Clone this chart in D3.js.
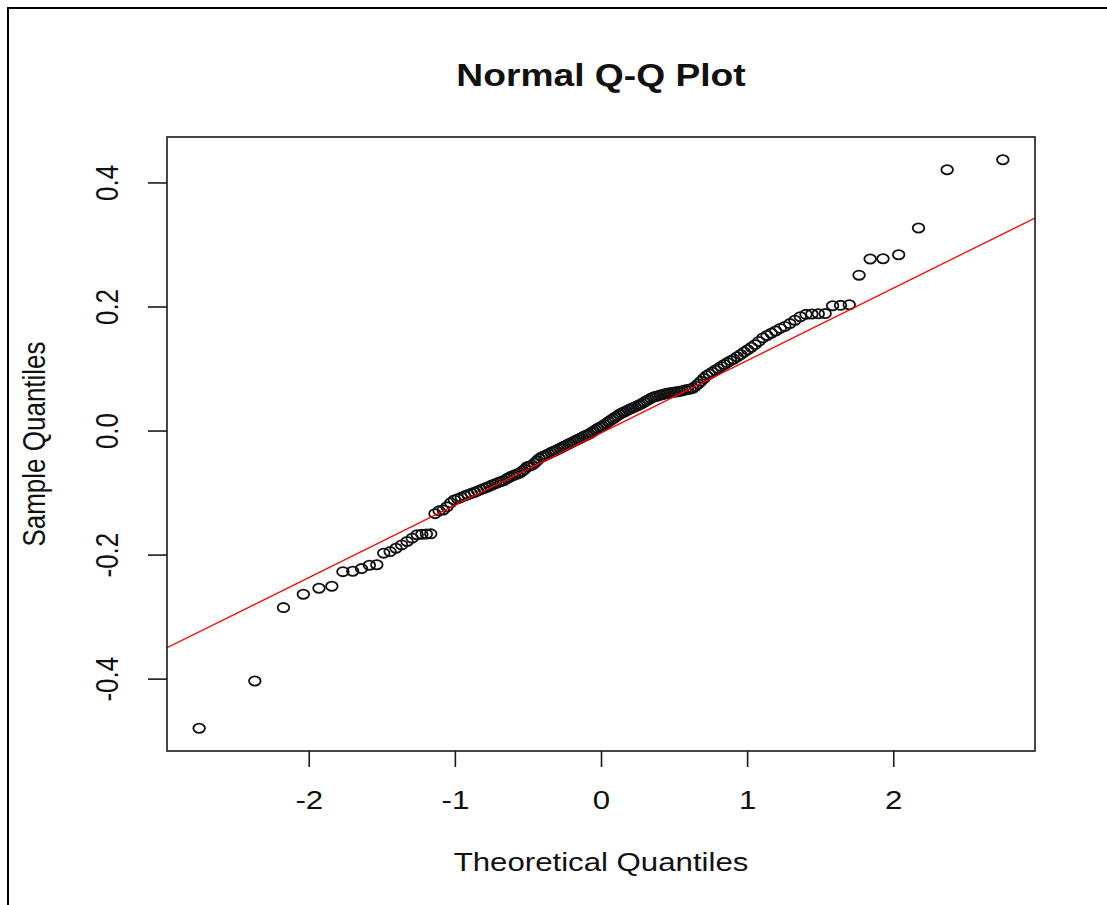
<!DOCTYPE html>
<html>
<head>
<meta charset="utf-8">
<script src="https://cdn.jsdelivr.net/npm/d3@7"></script>
<style>
  html, body { margin: 0; padding: 0; background: #ffffff; }
  svg { display: block; }
  text { font-family: "Liberation Sans", Arial, sans-serif; fill: #111; }
</style>
</head>
<body>
<svg id="chart" width="1107" height="905"></svg>
<script>
// ---- data ----
const theoreticalQuantiles = [
  -2.750, -2.369, -2.173, -2.037, -1.930, -1.842, -1.766, -1.699, -1.639, -1.585,
  -1.534, -1.487, -1.443, -1.403, -1.364, -1.327, -1.292, -1.258, -1.226, -1.195,
  -1.165, -1.136, -1.108, -1.080, -1.054, -1.029, -1.004, -0.980, -0.956, -0.932,
  -0.909, -0.887, -0.865, -0.844, -0.822, -0.802, -0.781, -0.761, -0.741, -0.722,
  -0.703, -0.684, -0.665, -0.646, -0.628, -0.610, -0.592, -0.574, -0.557, -0.539,
  -0.522, -0.505, -0.489, -0.472, -0.455, -0.439, -0.423, -0.406, -0.390, -0.374,
  -0.358, -0.342, -0.326, -0.311, -0.295, -0.279, -0.264, -0.249, -0.233, -0.218,
  -0.203, -0.188, -0.172, -0.157, -0.142, -0.127, -0.112, -0.097, -0.082, -0.067,
  -0.052, -0.037, -0.022, -0.007,
   0.007,  0.022,  0.037,  0.052,  0.067,  0.082,  0.097,  0.112,  0.127,  0.142,
   0.157,  0.172,  0.188,  0.203,  0.218,  0.233,  0.249,  0.264,  0.279,  0.295,
   0.311,  0.326,  0.342,  0.358,  0.374,  0.390,  0.406,  0.423,  0.439,  0.455,
   0.472,  0.489,  0.505,  0.522,  0.539,  0.557,  0.574,  0.592,  0.610,  0.628,
   0.646,  0.665,  0.684,  0.703,  0.722,  0.741,  0.761,  0.781,  0.802,  0.822,
   0.844,  0.865,  0.887,  0.909,  0.932,  0.956,  0.980,  1.004,  1.029,  1.054,
   1.080,  1.108,  1.136,  1.165,  1.195,  1.226,  1.258,  1.292,  1.327,  1.364,
   1.403,  1.443,  1.487,  1.534,  1.585,  1.639,  1.699,  1.766,  1.842,  1.930,
   2.037,  2.173,  2.369,  2.750
];

const sampleQuantiles = [
  -0.4800, -0.4037, -0.2855, -0.2639, -0.2542, -0.2510, -0.2275, -0.2268, -0.2226, -0.2171,
  -0.2165, -0.1977, -0.1952, -0.1897, -0.1844, -0.1790, -0.1735, -0.1680, -0.1671, -0.1669,
  -0.1666, -0.1340, -0.1295, -0.1280, -0.1230, -0.1166, -0.1118, -0.1100, -0.1077, -0.1053,
  -0.1032, -0.1013, -0.0994, -0.0973, -0.0953, -0.0934, -0.0913, -0.0894, -0.0874, -0.0856,
  -0.0837, -0.0821, -0.0805, -0.0779, -0.0755, -0.0735, -0.0718, -0.0700, -0.0685, -0.0656,
  -0.0624, -0.0585, -0.0573, -0.0558, -0.0527, -0.0489, -0.0453, -0.0427, -0.0410, -0.0392,
  -0.0376, -0.0356, -0.0339, -0.0323, -0.0303, -0.0285, -0.0266, -0.0248, -0.0231, -0.0213,
  -0.0195, -0.0177, -0.0158, -0.0140, -0.0123, -0.0106, -0.0089, -0.0071, -0.0055, -0.0035,
  -0.0011,  0.0011,  0.0034,  0.0053,  0.0071,  0.0095,  0.0118,  0.0142,  0.0166,  0.0189,
   0.0213,  0.0237,  0.0261,  0.0284,  0.0300,  0.0316,  0.0334,  0.0350,  0.0366,  0.0382,
   0.0398,  0.0415,  0.0434,  0.0455,  0.0479,  0.0498,  0.0521,  0.0539,  0.0550,  0.0560,
   0.0571,  0.0582,  0.0594,  0.0602,  0.0608,  0.0615,  0.0620,  0.0626,  0.0632,  0.0642,
   0.0652,  0.0661,  0.0671,  0.0681,  0.0715,  0.0753,  0.0794,  0.0839,  0.0885,  0.0911,
   0.0940,  0.0971,  0.1000,  0.1034,  0.1065,  0.1095,  0.1127,  0.1152,  0.1189,  0.1227,
   0.1266,  0.1302,  0.1342,  0.1385,  0.1437,  0.1494,  0.1532,  0.1568,  0.1605,  0.1647,
   0.1679,  0.1724,  0.1777,  0.1835,  0.1873,  0.1879,  0.1882,  0.1885,  0.2011,  0.2018,
   0.2027,  0.2505,  0.2765,  0.2770,  0.2834,  0.3265,  0.4205,  0.4366
];

// reference line (qqline): intercept and slope
const lineIntercept = -0.0038;
const lineSlope = 0.11665;

const xTickValues = [-2, -1, 0, 1, 2];
const xTickLabels = ["-2", "-1", "0", "1", "2"];
const yTickValues = [-0.4, -0.2, 0.0, 0.2, 0.4];
const yTickLabels = ["-0.4", "-0.2", "0.0", "0.2", "0.4"];

const titleText = "Normal Q-Q Plot";
const xLabelText = "Theoretical Quantiles";
const yLabelText = "Sample Quantiles";

// ---- layout ----
const plot = { left: 167, right: 1035, top: 137, bottom: 751 };
const SX = 1.2;               // horizontal stretch of the original picture
const FONT = 26;

const svg = d3.select("#chart");

// outer figure frame (only top and left edges visible)
svg.append("rect")
  .attr("x", 8).attr("y", 8)
  .attr("width", 1300).attr("height", 1300)
  .attr("fill", "none").attr("stroke", "#000").attr("stroke-width", 2);

// scales (R-style 4% padding on data range)
const pad = (ext) => { const r = ext[1] - ext[0]; return [ext[0] - 0.04 * r, ext[1] + 0.04 * r]; };
const x = d3.scaleLinear().domain(pad(d3.extent(theoreticalQuantiles))).range([plot.left, plot.right]);
const y = d3.scaleLinear().domain(pad(d3.extent(sampleQuantiles))).range([plot.bottom, plot.top]);

// clip for the reference line
svg.append("defs").append("clipPath").attr("id", "plotclip")
  .append("rect")
  .attr("x", plot.left).attr("y", plot.top)
  .attr("width", plot.right - plot.left).attr("height", plot.bottom - plot.top);

// points
const data = theoreticalQuantiles.map((t, i) => ({ t, s: sampleQuantiles[i] }));
svg.append("g").selectAll("ellipse").data(data).join("ellipse")
  .attr("cx", d => x(d.t))
  .attr("cy", d => y(d.s))
  .attr("rx", 5.8).attr("ry", 4.6)
  .attr("fill", "none")
  .attr("stroke", "#111")
  .attr("stroke-width", 1.8);

// reference line
const xd = x.domain();
svg.append("line")
  .attr("clip-path", "url(#plotclip)")
  .attr("x1", x(xd[0])).attr("y1", y(lineIntercept + lineSlope * xd[0]))
  .attr("x2", x(xd[1])).attr("y2", y(lineIntercept + lineSlope * xd[1]))
  .attr("stroke", "#ff0000").attr("stroke-width", 1.3);

// box
svg.append("rect")
  .attr("x", plot.left).attr("y", plot.top)
  .attr("width", plot.right - plot.left).attr("height", plot.bottom - plot.top)
  .attr("fill", "none").attr("stroke", "#1a1a1a").attr("stroke-width", 1.6);

// x axis
const xAxis = d3.axisBottom(x).tickValues(xTickValues)
  .tickFormat((d, i) => xTickLabels[i]).tickSize(16).tickSizeOuter(0);
const gx = svg.append("g").attr("transform", `translate(0,${plot.bottom})`).call(xAxis);
gx.select(".domain").remove();
gx.selectAll(".tick line").attr("stroke", "#1a1a1a").attr("stroke-width", 1.6);
gx.selectAll(".tick text")
  .attr("x", 0).attr("y", 0).attr("dy", null)
  .attr("transform", `translate(0,58) scale(${SX},1)`)
  .attr("text-anchor", "middle")
  .style("font-size", FONT + "px")
  .style("font-family", '"Liberation Sans", Arial, sans-serif')
  .attr("fill", "#111");

// y axis
const yAxis = d3.axisLeft(y).tickValues(yTickValues)
  .tickFormat((d, i) => yTickLabels[i]).tickSize(19).tickSizeOuter(0);
const gy = svg.append("g").attr("transform", `translate(${plot.left},0)`).call(yAxis);
gy.select(".domain").remove();
gy.selectAll(".tick line").attr("stroke", "#1a1a1a").attr("stroke-width", 1.6);
gy.selectAll(".tick text")
  .attr("x", 0).attr("y", 0).attr("dy", null)
  .attr("transform", `translate(-49,0) scale(${SX},1) rotate(-90)`)
  .attr("text-anchor", "middle")
  .style("font-size", FONT + "px")
  .style("font-family", '"Liberation Sans", Arial, sans-serif')
  .attr("fill", "#111");

// title
const cx = (plot.left + plot.right) / 2;
svg.append("text")
  .attr("transform", `translate(${cx},86) scale(${SX},1)`)
  .attr("text-anchor", "middle")
  .style("font-size", "31px").style("font-weight", "bold")
  .text(titleText);

// axis titles
svg.append("text")
  .attr("transform", `translate(${cx},871) scale(${SX},1)`)
  .attr("text-anchor", "middle")
  .style("font-size", FONT + "px")
  .text(xLabelText);

svg.append("text")
  .attr("transform", `translate(45,${(plot.top + plot.bottom) / 2}) scale(${SX},1) rotate(-90)`)
  .attr("text-anchor", "middle")
  .style("font-size", FONT + "px")
  .text(yLabelText);
</script>
</body>
</html>
